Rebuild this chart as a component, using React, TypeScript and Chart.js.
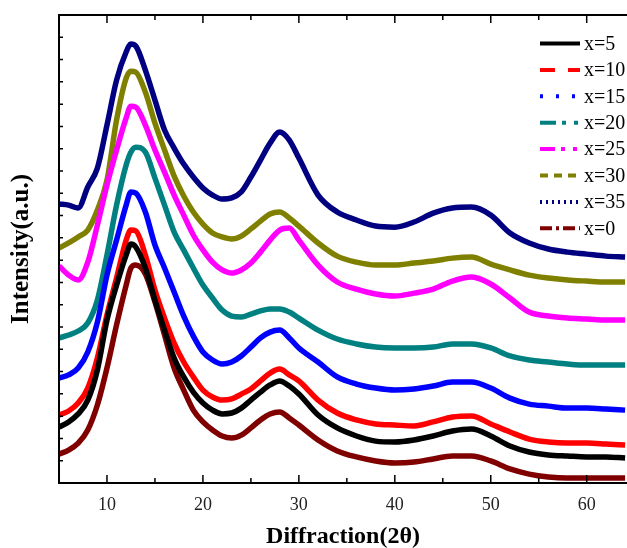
import React, { useEffect, useRef } from "react";
import { Chart, registerables } from "chart.js";

Chart.register(...registerables);

// 2θ positions (degrees)
const angles = [5, 6, 7, 8, 9, 10, 11, 12, 12.5, 13, 14, 15, 16, 17, 18, 19, 20, 21, 22, 23, 24, 25, 26, 27, 28, 29, 30, 32, 34, 36, 38, 40, 42, 44, 46, 48, 50, 52, 54, 56, 58, 60, 62, 64];

// Intensities (a.u., stacked offsets as in the picture)
const x5 = [2.51, 2.74, 3.10, 3.72, 5.07, 7.31, 8.88, 10.23, 10.72, 10.59, 9.65, 8.21, 6.86, 5.61, 4.76, 4.08, 3.59, 3.27, 3.10, 3.14, 3.36, 3.72, 4.08, 4.40, 4.58, 4.35, 3.99, 3.05, 2.47, 2.11, 1.88, 1.84, 1.93, 2.11, 2.33, 2.42, 2.11, 1.66, 1.39, 1.26, 1.21, 1.17, 1.17, 1.12];
const x10 = [3.05, 3.23, 3.59, 4.26, 5.61, 7.54, 9.20, 10.90, 11.35, 11.31, 10.23, 8.66, 7.40, 6.28, 5.43, 4.76, 4.17, 3.86, 3.72, 3.77, 3.99, 4.22, 4.58, 4.93, 5.11, 4.85, 4.58, 3.72, 3.14, 2.83, 2.65, 2.60, 2.56, 2.74, 2.96, 3.01, 2.65, 2.29, 1.97, 1.84, 1.79, 1.79, 1.75, 1.70];
const x15 = [4.71, 4.85, 5.16, 5.88, 7.22, 9.33, 10.90, 12.47, 13.06, 13.01, 12.16, 10.68, 9.65, 8.57, 7.49, 6.59, 5.88, 5.52, 5.34, 5.43, 5.70, 6.10, 6.51, 6.77, 6.86, 6.51, 6.06, 5.43, 4.76, 4.44, 4.26, 4.17, 4.22, 4.35, 4.53, 4.53, 4.26, 3.81, 3.54, 3.45, 3.36, 3.36, 3.32, 3.27];
const x20 = [6.51, 6.64, 6.82, 7.18, 8.21, 10.23, 12.47, 14.27, 14.85, 15.07, 14.85, 13.68, 12.47, 11.26, 10.45, 9.65, 8.88, 8.30, 7.76, 7.49, 7.45, 7.58, 7.72, 7.81, 7.81, 7.67, 7.40, 6.86, 6.46, 6.24, 6.10, 6.06, 6.06, 6.10, 6.24, 6.24, 6.06, 5.70, 5.52, 5.43, 5.34, 5.29, 5.29, 5.29];
const x25 = [9.74, 9.33, 9.11, 9.91, 11.57, 13.37, 14.94, 16.38, 16.91, 16.87, 16.06, 14.94, 13.95, 12.92, 12.02, 11.13, 10.46, 9.91, 9.56, 9.42, 9.56, 9.87, 10.36, 10.90, 11.35, 11.44, 10.90, 9.78, 9.02, 8.70, 8.48, 8.39, 8.52, 8.70, 9.06, 9.24, 8.93, 8.30, 7.67, 7.49, 7.40, 7.36, 7.31, 7.31];
const x30 = [10.54, 10.77, 11.04, 11.35, 12.25, 13.59, 16.29, 18.17, 18.48, 18.44, 17.54, 16.15, 14.94, 13.77, 12.88, 12.16, 11.62, 11.22, 11.04, 10.95, 11.08, 11.40, 11.75, 12.07, 12.16, 11.89, 11.53, 10.77, 10.18, 9.91, 9.78, 9.78, 9.87, 9.96, 10.09, 10.14, 9.82, 9.56, 9.33, 9.20, 9.11, 9.06, 9.02, 9.02];
const x35 = [12.52, 12.47, 12.34, 13.28, 14.13, 16.06, 18.08, 19.34, 19.70, 19.61, 18.53, 17.18, 15.84, 15.03, 14.31, 13.73, 13.24, 12.92, 12.74, 12.79, 13.06, 13.73, 14.49, 15.25, 15.75, 15.39, 14.58, 12.92, 12.16, 11.80, 11.53, 11.48, 11.71, 12.11, 12.34, 12.38, 12.02, 11.22, 10.77, 10.50, 10.36, 10.27, 10.18, 10.14];
const x0 = [1.30, 1.48, 1.79, 2.38, 3.50, 5.16, 7.09, 8.88, 9.65, 9.78, 9.38, 8.12, 6.64, 5.16, 4.17, 3.27, 2.74, 2.38, 2.11, 2.02, 2.15, 2.47, 2.83, 3.10, 3.19, 2.92, 2.60, 1.93, 1.44, 1.17, 0.99, 0.90, 0.94, 1.08, 1.21, 1.21, 0.99, 0.63, 0.40, 0.27, 0.22, 0.22, 0.22, 0.22];

const seriesLabels = ["x=5", "x=10", "x=15", "x=20", "x=25", "x=30", "x=35", "x=0"];
const seriesValues = [x5, x10, x15, x20, x25, x30, x35, x0];
const seriesColors = ["#000000", "#ff0000", "#0000ff", "#008080", "#ff00ff", "#808000", "#000080", "#800000"];
const legendDashes = [[], [15, 13], [3, 13], [16, 6, 4, 8, 4, 8], [15, 6, 4, 8, 4, 8], [8, 6], [2, 4], [12, 4, 3, 4]];

const xTicks = [10, 20, 30, 40, 50, 60];
const X_MIN = 5;
const X_MAX = 64.2;
const Y_MIN = 0;
const Y_MAX = 21;

const SERIF = "'Liberation Serif', 'Times New Roman', serif";

const framePlugin = {
  id: "frame",
  afterDatasetsDraw(chart: any) {
    const { ctx, chartArea, scales } = chart;
    const xs = scales.x;
    const ys = scales.y;
    const { left, right, top, bottom } = chartArea;
    ctx.save();
    ctx.strokeStyle = "#000";
    ctx.lineWidth = 2;
    ctx.setLineDash([]);
    ctx.beginPath();
    ctx.moveTo(right + 1, top);
    ctx.lineTo(left, top);
    ctx.lineTo(left, bottom);
    ctx.lineTo(right + 1, bottom);
    ctx.stroke();
    ctx.lineWidth = 1.5;
    ctx.beginPath();
    for (let v = 5; v <= 60; v += 5) {
      const px = xs.getPixelForValue(v);
      const len = v % 10 === 0 ? 8 : 5;
      ctx.moveTo(px, bottom);
      ctx.lineTo(px, bottom - len);
      ctx.moveTo(px, top);
      ctx.lineTo(px, top + len);
    }
    for (let v = Y_MIN + 1; v < Y_MAX; v += 1) {
      const py = ys.getPixelForValue(v);
      ctx.moveTo(left, py);
      ctx.lineTo(left + 4, py);
    }
    ctx.stroke();
    ctx.restore();
  },
};

const legendPlugin = {
  id: "insideLegend",
  afterDraw(chart: any) {
    const { ctx } = chart;
    ctx.save();
    const x0 = 540;
    const x1 = 580;
    const y0 = 43.5;
    const dy = 26.4;
    seriesLabels.forEach((label, i) => {
      const y = y0 + i * dy;
      ctx.strokeStyle = seriesColors[i];
      ctx.lineWidth = 4;
      ctx.lineCap = "butt";
      ctx.setLineDash(legendDashes[i]);
      ctx.beginPath();
      ctx.moveTo(x0, y);
      ctx.lineTo(x1, y);
      ctx.stroke();
      ctx.setLineDash([]);
      ctx.fillStyle = "#000";
      ctx.font = `20px ${SERIF}`;
      ctx.textAlign = "left";
      ctx.textBaseline = "middle";
      ctx.fillText(label, 584, y + 1);
    });
    ctx.restore();
  },
};

export default function App() {
  const canvasRef = useRef<HTMLCanvasElement | null>(null);

  useEffect(() => {
    if (!canvasRef.current) return;
    const datasets = seriesLabels.map((label, i) => ({
      label,
      data: angles.map((a, k) => ({ x: a, y: seriesValues[i][k] })),
      borderColor: seriesColors[i],
      backgroundColor: seriesColors[i],
      borderWidth: 5.5,
      pointRadius: 0,
      cubicInterpolationMode: "monotone" as const,
      fill: false,
    }));
    const chart = new Chart(canvasRef.current, {
      type: "line",
      data: { datasets },
      plugins: [framePlugin, legendPlugin],
      options: {
        animation: false,
        responsive: true,
        maintainAspectRatio: false,
        layout: { padding: { top: 15, right: 0, left: 0, bottom: 0 } },
        plugins: {
          legend: { display: false },
          tooltip: { enabled: false },
        },
        scales: {
          x: {
            type: "linear",
            min: X_MIN,
            max: X_MAX,
            afterBuildTicks: (axis: any) => {
              axis.ticks = xTicks.map((v) => ({ value: v }));
            },
            afterFit: (scale: any) => {
              scale.height = 65;
            },
            grid: { display: false, drawTicks: false },
            border: { display: false },
            ticks: {
              padding: 11,
              color: "#222",
              font: { family: SERIF, size: 18 },
              maxRotation: 0,
              autoSkip: false,
            },
            title: {
              display: true,
              text: "Diffraction(2θ)",
              color: "#000",
              font: { family: SERIF, size: 24, weight: "bold", lineHeight: 0.9 },
              padding: 0,
            },
          },
          y: {
            type: "linear",
            min: Y_MIN,
            max: Y_MAX,
            afterFit: (scale: any) => {
              scale.width = 59;
            },
            grid: { display: false, drawTicks: false },
            border: { display: false },
            ticks: { display: false, stepSize: 1 },
            title: {
              display: true,
              text: "Intensity(a.u.)",
              color: "#000",
              font: { family: SERIF, size: 25, weight: "bold", lineHeight: 1.2 },
              padding: { top: 7, bottom: 0 },
            },
          },
        },
      },
    });
    return () => chart.destroy();
  }, []);

  return (
    <div style={{ position: "absolute", left: 0, top: 0, width: 627, height: 548, background: "#fff" }}>
      <canvas ref={canvasRef} />
    </div>
  );
}
